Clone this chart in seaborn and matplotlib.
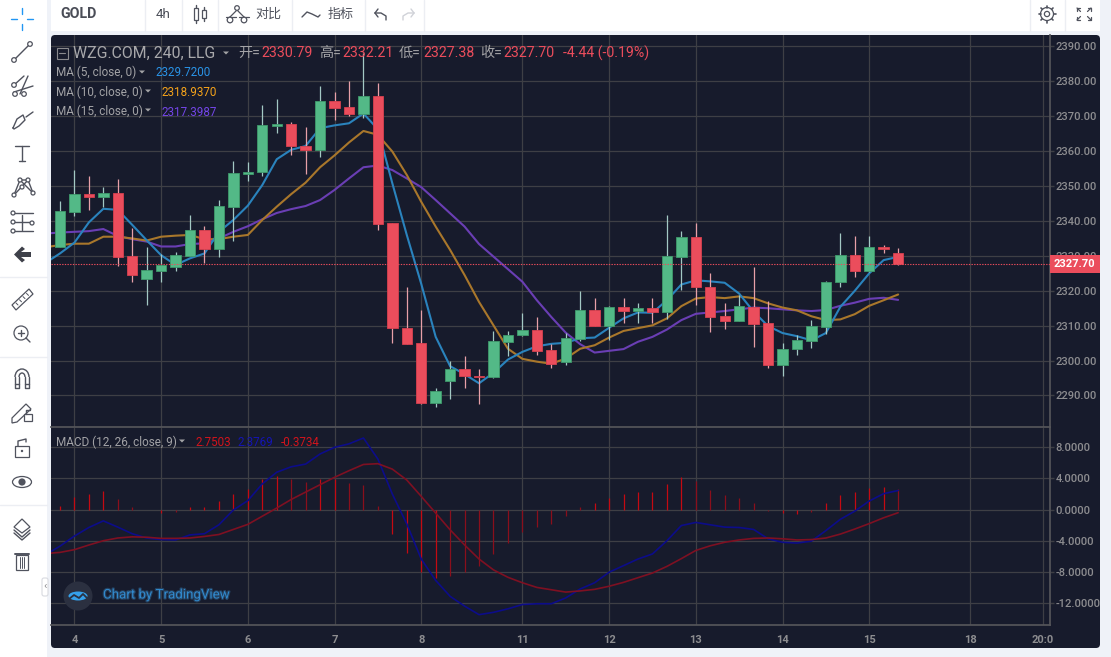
import numpy as np
import matplotlib
matplotlib.use('Agg')
import matplotlib.pyplot as plt
import matplotlib.patheffects as pe
from matplotlib.patches import Rectangle, Circle, FancyBboxPatch, Polygon, Ellipse, Arc
import seaborn as sns

# %%
# Data (bar 0 = first candle, MA/MACD lines start one bar earlier)
opens = [2332.5, 2342.5, 2347.7, 2346.8, 2347.9, 2330, 2323.3, 2325.7, 2326.9, 2330.1,
         2337.4, 2332, 2344.1, 2353.6, 2353.9, 2367.3, 2367.8, 2361.5, 2360.3, 2374.3,
         2372.6, 2370.7, 2375.9, 2339.3, 2309.3, 2305, 2287.9, 2294.1, 2297.5, 2295.7,
         2295.2, 2305.4, 2307.3, 2308.9, 2303, 2299.5, 2306.1, 2314.4, 2310, 2315.3,
         2314.3, 2315, 2313.8, 2329.7, 2335.5, 2321.2, 2312.7, 2311.4, 2315.3, 2310.7,
         2298.7, 2303.2, 2305.6, 2309.6, 2322.4, 2330.4, 2325.8, 2332.5, 2330.79]
highs = [2345.7, 2354.6, 2352.8, 2349.8, 2352, 2337.9, 2332.5, 2330.5, 2331, 2341.7,
         2338.5, 2346, 2357.3, 2356.8, 2373.3, 2375.1, 2368.3, 2367, 2378.7, 2377,
         2380.2, 2388.1, 2379.4, 2339.3, 2321, 2314.4, 2292.2, 2299.9, 2301.3, 2297.5,
         2308.6, 2308.6, 2313.7, 2312.4, 2304.7, 2307.8, 2319.9, 2317.8, 2315.6, 2317.8,
         2316.6, 2317.8, 2341.7, 2337.1, 2339.5, 2325, 2316.4, 2318.8, 2326.7, 2317,
         2304.9, 2307.2, 2311.6, 2322.9, 2336.6, 2335.7, 2335.6, 2333.1, 2332.21]
lows = [2332.5, 2341.4, 2343.1, 2344, 2327, 2322.4, 2316, 2322.6, 2325.7, 2330,
        2328, 2329.7, 2334.3, 2351.5, 2353, 2365.1, 2358.8, 2353.6, 2358.4, 2369,
        2370.2, 2369.5, 2337.5, 2305, 2304.8, 2287.6, 2286.8, 2288.9, 2292.2, 2287.7,
        2295, 2301.3, 2307.1, 2301.6, 2297.9, 2298.8, 2305.5, 2310, 2306, 2310.8,
        2310.8, 2310.8, 2311.8, 2320.2, 2316, 2308.1, 2309.1, 2311.4, 2303.8, 2297.9,
        2295.7, 2301.5, 2303.6, 2307.5, 2321, 2323.9, 2325.4, 2330.9, 2327.38]
closes = [2342.9, 2347.7, 2346.8, 2347.9, 2329.7, 2324.5, 2326.1, 2327.4, 2330.4, 2337.4,
          2332, 2344.4, 2353.8, 2354.1, 2367.6, 2367.8, 2361.4, 2360.3, 2374.3, 2372.4,
          2370.7, 2375.9, 2339, 2309.2, 2304.8, 2287.9, 2291.4, 2297.5, 2295.5, 2295.2,
          2305.6, 2307.3, 2308.9, 2302.8, 2299.1, 2306.4, 2314.4, 2310, 2315.3, 2314.3,
          2315, 2313.8, 2330, 2335.5, 2321, 2312.4, 2311.4, 2315.6, 2310.5, 2298.7,
          2303.4, 2305.8, 2309.8, 2322.5, 2330.4, 2325.8, 2332.5, 2332, 2327.7]

ma5 = [2328, 2330.7, 2333.8, 2339.6, 2343.5, 2343.2, 2338.9, 2334.5, 2330.2, 2327.4,
       2329.3, 2330.7, 2336.9, 2340.3, 2344.4, 2350.3, 2357.7, 2360.4, 2361.5, 2366.6,
       2367.4, 2368, 2370.8, 2366.3, 2350.8, 2336, 2322, 2306.8, 2298.4, 2296.1, 2293.5,
       2296.5, 2300.3, 2302.5, 2304.1, 2304.8, 2305.1, 2306.4, 2306.6, 2309.4, 2312.1,
       2313.8, 2313.7, 2317.3, 2321.8, 2323, 2322.7, 2322.3, 2319.2, 2314, 2309.9,
       2307.9, 2307, 2305.8, 2307.9, 2315.4, 2320, 2325, 2328.8, 2329.72]
ma10 = [2332.5, 2333.1, 2333.5, 2333.5, 2335.5, 2335.5, 2335, 2334.4, 2335.5, 2335.8,
        2336, 2334.8, 2334.8, 2335.5, 2336, 2340.3, 2344.1, 2347.7, 2351, 2355.4, 2358.8,
        2362.5, 2365.8, 2364.7, 2359.9, 2353.2, 2345.5, 2338.4, 2331.7, 2324.5, 2316.8,
        2310.1, 2303.4, 2300.5, 2299.7, 2299.1, 2300.6, 2303.4, 2304.4, 2306.6, 2308.5,
        2309.3, 2310.1, 2312.1, 2315.6, 2317.8, 2318.2, 2317.9, 2318.4, 2317.9, 2316.4,
        2315.2, 2314.4, 2312.7, 2311.6, 2311.8, 2313.3, 2315.7, 2317.3, 2318.94]
ma15 = [2336.4, 2336.7, 2336.9, 2337.1, 2337.7, 2335.7, 2334.8, 2334.1, 2332.7, 2332.7,
        2333.4, 2333.6, 2335, 2336.9, 2338.5, 2340.5, 2342.3, 2343.4, 2344.3, 2346, 2348.9,
        2352.2, 2355.4, 2355.9, 2354.6, 2352.2, 2349.7, 2346, 2342.2, 2338.4, 2333.4,
        2329.8, 2326.2, 2322.6, 2317.3, 2312.5, 2308, 2304.7, 2302.3, 2302.8, 2303.3,
        2305.4, 2306.8, 2308.9, 2311.6, 2313.4, 2313.8, 2314.2, 2314.7, 2315.2, 2315,
        2314.7, 2314.4, 2314.2, 2314.5, 2315.7, 2316.6, 2317.7, 2318, 2317.4]

macd_hist = [0.5, 1.6, 2.05, 2.45, 1.4, 0.3, -0.1, -0.4, -0.25, 0.3, 0.3, 1.15, 2.05, 2.65,
             3.95, 4.35, 3.95, 3.6, 3.95, 3.95, 3.4, 3.15, 0.5, -3.2, -5.6, -8, -8.8, -8.55,
             -8, -7.3, -5.7, -4.3, -2.9, -2.2, -1.9, -0.85, 0.3, 0.8, 1.45, 1.95, 2.2, 2.2,
             3.3, 4.15, 3.65, 2.55, 1.9, 1.5, 0.9, -0.2, -0.5, -0.55, -0.35, 0.8, 1.9, 2.2,
             2.8, 2.95, 2.7]
macd_line = [-5.8, -4.7, -3.4, -2.3, -1.45, -2.25, -3.1, -3.65, -3.85, -3.9, -3.25, -3.1,
             -1.95, -0.05, 1.15, 3.3, 4.8, 5.5, 5.85, 7.15, 8, 8.45, 9.2, 6.5, 2, -1.85,
             -6.35, -9.1, -11.15, -12.4, -13.5, -13.2, -12.75, -12.2, -12.1, -12.1, -11.35,
             -10.2, -9.4, -8.05, -7.2, -6.35, -5.7, -4, -2.05, -1.65, -1.95, -2.25, -2.3,
             -2.55, -3.75, -4.2, -4.3, -4.05, -2.7, -1.25, -0.2, 1.1, 2.05, 2.45]
signal_line = [-5.65, -5.5, -5.15, -4.55, -4, -3.65, -3.5, -3.55, -3.7, -3.7, -3.65, -3.45,
               -3.2, -2.55, -1.9, -0.85, 0.2, 1.3, 2.25, 3.2, 4.15, 5, 5.8, 5.9, 5.2, 3.8,
               1.7, -0.45, -2.6, -4.55, -6.35, -7.75, -8.7, -9.4, -10, -10.3, -10.6, -10.45,
               -10.25, -9.85, -9.35, -8.75, -8.15, -7.3, -6.3, -5.25, -4.65, -4.2, -3.9,
               -3.7, -3.65, -3.75, -3.9, -3.85, -3.65, -3.15, -2.5, -1.8, -1.05, -0.4]

day_ticks = [1, 7, 13, 19, 25, 32, 38, 44, 50, 56, 63, 68]
day_labels = ['4', '5', '6', '7', '8', '11', '12', '13', '14', '15', '18', '20:0']
price_ticks = [2290, 2300, 2310, 2320, 2330, 2340, 2350, 2360, 2370, 2380, 2390]
macd_ticks = [-12, -8, -4, 0, 4, 8]

BG = '#171b2c'
GRID = '#3e3f45'
UP = '#53b987'
DOWN = '#eb4d5c'
ICON = '#50535e'
LEGEND = '#a3a3a6'
AXTEXT = '#8d8d90'

W, H = 1111, 657

sns.set_theme(style='dark')
plt.rcParams['font.family'] = ['Roboto', 'Noto Sans CJK SC', 'DejaVu Sans']
plt.rcParams['axes.unicode_minus'] = False

fig = plt.figure(figsize=(W / 100, H / 100), dpi=100, facecolor='#eff2f8')


def pixel_axes(z):
    a = fig.add_axes([0, 0, 1, 1], zorder=z)
    a.set_xlim(0, W)
    a.set_ylim(H, 0)
    a.axis('off')
    a.patch.set_alpha(0)
    return a


back = pixel_axes(0)
front = pixel_axes(3)

# %%
# Window chrome: toolbar, sidebar, panel
back.add_patch(Rectangle((0, 0), 47, H, fc='white', ec='none'))
back.add_patch(Rectangle((51, 0), 1049, 31, fc='white', ec='none'))
for x in [144.5, 181.5, 217.5, 291.5, 364.5, 423.5, 1029.5, 1064.5]:
    back.plot([x, x], [0, 31], color='#eceef3', lw=1)
for y in [277, 357, 505]:
    back.plot([0, 47], [y, y], color='#eceef3', lw=1)
back.add_patch(FancyBboxPatch((54, 38), 1043, 607, boxstyle='round,pad=3,rounding_size=4', fc=BG, ec='none'))

# %%
# Price pane
x_bars = np.arange(len(closes))
x_lines = np.arange(-1, len(closes))
ax = fig.add_axes([51 / W, 1 - 427 / H, 999 / W, 392 / H], zorder=1, facecolor='none')
ax2 = fig.add_axes([51 / W, 1 - 625 / H, 999 / W, 197.5 / H], zorder=1, facecolor='none')

sns.lineplot(x=x_lines, y=ma15, color='#6a3eb4', lw=1.5, ax=ax, zorder=2)
sns.lineplot(x=x_lines, y=ma10, color='#a9772b', lw=1.5, ax=ax, zorder=2)
sns.lineplot(x=x_lines, y=ma5, color='#2a83bd', lw=1.5, ax=ax, zorder=2)

o, h, l, c = map(np.array, (opens, highs, lows, closes))
up = c >= o
ax.vlines(x_bars[up], l[up], h[up], color='#a3c9c4', lw=0.9, zorder=3)
ax.vlines(x_bars[~up], l[~up], h[~up], color='#e8a0a8', lw=0.9, zorder=3)
ax.bar(x_bars[up], (c - o)[up], bottom=o[up], width=0.72, color=UP, edgecolor='#3f9a6c', lw=0.6, zorder=4)
ax.bar(x_bars[~up], (c - o)[~up], bottom=o[~up], width=0.72, color=DOWN, edgecolor='#d8404f', lw=0.6, zorder=4)

ax.axhline(closes[-1], color=DOWN, lw=0.8, ls=(0, (1.2, 1.2)), zorder=5)
ax.set_ylim(2340 - 206 / 3.49, 2340 + 186 / 3.49)
ax.set_yticks(price_ticks)
ax.set_yticklabels([f'{v:.2f}' for v in price_ticks])
ax.annotate(f'{closes[-1]:.2f}', xy=(1.0, closes[-1]), xycoords=ax.get_yaxis_transform(), xytext=(2.9, 0),
            textcoords='offset points', color='white', fontsize=8, fontweight='bold', va='center', ha='left',
            zorder=6, annotation_clip=False, bbox=dict(boxstyle='square,pad=0.35', fc=DOWN, ec='none'))

# %%
# MACD pane
hist = np.array(macd_hist)
grow = np.abs(hist) >= np.abs(np.r_[0, hist[:-1]])
ax2.vlines(x_bars[grow], 0, hist[grow], color='#c40a12', lw=0.9, zorder=2)
ax2.vlines(x_bars[~grow], 0, hist[~grow], color='#8a0f1c', lw=0.9, zorder=2)
sns.lineplot(x=x_lines, y=macd_line, color='#0c0c8a', lw=1.2, ax=ax2, zorder=3)
sns.lineplot(x=x_lines, y=signal_line, color='#7e1022', lw=1.2, ax=ax2, zorder=4)
ax2.set_ylim(-14.83, 10.55)
ax2.set_yticks(macd_ticks)
ax2.set_yticklabels([f'{v:.4f}' for v in macd_ticks])

for a in (ax, ax2):
    a.set_xlim(-0.62, 68.51)
    a.set_xticks(day_ticks)
    a.yaxis.tick_right()
    a.grid(True, color=GRID, lw=0.9)
    a.set_axisbelow(True)
    a.set_xlabel('')
    a.set_ylabel('')
    for s in a.spines.values():
        s.set_visible(False)
    a.tick_params(axis='y', colors=AXTEXT, labelsize=8, length=3, width=1, pad=1, color=GRID, right=True)
    for t in a.get_yticklabels():
        t.set_fontweight('medium')
    a.spines['right'].set_visible(True)
    a.spines['right'].set_color('#55555a')
    a.spines['bottom'].set_visible(True)
    a.spines['bottom'].set_color('#55555a')
ax.tick_params(axis='x', labelbottom=False, length=0)
ax2.set_xticklabels(day_labels)
ax2.tick_params(axis='x', colors=AXTEXT, labelsize=8, length=0, pad=7)
for t in ax2.get_xticklabels():
    t.set_fontweight('bold')

# %%
# Legend text
def txt(x, y, s, color=LEGEND, size=8.5, **kw):
    front.text(x, y, s, color=color, fontsize=size, va='center', ha=kw.pop('ha', 'left'), **kw)


def caret(x, y, color=LEGEND):
    front.add_patch(Polygon([(x, y - 1.5), (x + 6, y - 1.5), (x + 3, y + 1.5)], fc=color, ec='none'))


front.add_patch(Rectangle((56.5, 47.5), 11, 11, fc='none', ec='#8a8a8e', lw=0.8))
front.plot([59, 65], [53, 53], color='#8a8a8e', lw=0.8)
txt(73, 53, 'WZG.COM, 240, LLG', '#a8a8ab', 11.4)
caret(223, 53)
for x, s, col in [(238, '开=', LEGEND), (261, '2330.79', DOWN), (319, '高=', LEGEND), (342, '2332.21', DOWN),
                  (399, '低=', LEGEND), (423, '2327.38', DOWN), (480, '收=', LEGEND), (503, '2327.70', DOWN),
                  (563, '-4.44 (-0.19%)', DOWN)]:
    txt(x, 53, s, col, 10.2)

txt(56, 72.5, 'MA (5, close, 0)')
caret(139, 72)
txt(155, 73, '2329.7200', '#2a93e6', 8.4)
txt(56, 92, 'MA (10, close, 0)')
caret(145, 91)
txt(161, 93, '2318.9370', '#f5a31a', 8.4)
txt(56, 111, 'MA (15, close, 0)')
caret(145, 110)
txt(161, 112, '2317.3987', '#7446e8', 8.4)

txt(56, 442, 'MACD (12, 26, close, 9)')
caret(179, 441)
txt(195, 443, '2.7503', '#d2141c', 8.4)
txt(238, 443, '2.3769', '#1414b4', 8.4)
txt(281, 443, '-0.3734', '#d2141c', 8.4)

# watermark
front.add_patch(Circle((78, 596), 14.5, fc='#2b3040', ec='none'))
front.add_patch(Ellipse((78, 596), 19, 9, fc='#35a0ea', ec='none'))
front.plot([69, 74, 79, 83, 87], [599, 595, 598, 594, 598], color='#2b3040', lw=1.3)
txt(103, 595, 'Chart by TradingView', '#3189cd', 9.6,
    path_effects=[pe.withStroke(linewidth=1.6, foreground='#24405e')])

# %%
# Toolbar
txt(60, 14, 'GOLD', '#4a4d57', 10.2, fontweight='bold')
txt(163, 14.5, '4h', '#4a4d57', 9.6, ha='center')
txt(255, 14.5, '对比', ICON, 9.4)
txt(328, 14.5, '指标', ICON, 9.4)


def seg(xs, ys, a=front, color=ICON, lw=1):
    a.plot(xs, ys, color=color, lw=lw, solid_capstyle='round')


def ring(x, y, r=2.3, a=front, fc='white', color=ICON):
    a.add_patch(Circle((x, y), r, fc=fc, ec=color, lw=0.9, zorder=4))


# candle icon
for x, y0, y1, t0, t1 in [(196, 8, 20, 5, 23), (204, 10, 18, 7, 21)]:
    seg([x, x], [t0, t1])
    front.add_patch(Rectangle((x - 2, y0), 4, y1 - y0, fc='white', ec=ICON, lw=0.9, zorder=4))
# compare icon
seg([229, 237, 245], [18, 10, 18], lw=0.9)
seg([226, 236], [17, 17], lw=0.9)
seg([239, 249], [17, 17], lw=0.9)
ring(237, 8)
ring(230, 20, 2.8)
ring(244, 20, 2.8)
# indicator icon
seg([302, 307, 312, 318, 320], [17, 12, 14, 17, 15])
# undo / redo
seg([375, 381, 386, 386], [13, 13, 16, 20])
seg([375, 378], [13, 9])
seg([375, 378], [13, 17])
seg([414, 408, 403, 403], [13, 13, 16, 20], color='#d0d2d8')
seg([414, 411], [13, 9], color='#d0d2d8')
seg([414, 411], [13, 17], color='#d0d2d8')
# gear
front.add_patch(Circle((1047, 14), 6.5, fc='none', ec=ICON, lw=0.9))
front.add_patch(Circle((1047, 14), 2.6, fc='none', ec=ICON, lw=0.9))
for ang in np.deg2rad(np.arange(0, 360, 45)):
    seg([1047 + 6.5 * np.cos(ang), 1047 + 8.5 * np.cos(ang)], [14 + 6.5 * np.sin(ang), 14 + 8.5 * np.sin(ang)], lw=1.2)
# fullscreen
for sx, sy in [(-1, -1), (1, -1), (-1, 1), (1, 1)]:
    cx, cy = 1084 + 7 * sx, 14 + 6 * sy
    seg([cx - 3 * sx, cx, cx], [cy, cy, cy - 3 * sy], lw=0.9)
    seg([cx, cx - 3.5 * sx], [cy, cy - 3.5 * sy], lw=0.9)

# %%
# Sidebar icons
BLUE = '#2196f3'
seg([11, 17], [19, 19], color=BLUE)
seg([27, 33], [19, 19], color=BLUE)
seg([22, 22], [8, 14], color=BLUE)
seg([22, 22], [24, 30], color=BLUE)

seg([14, 30], [60, 44])
ring(14, 60)
ring(30, 44)

seg([14, 24], [85, 76])
seg([14, 33], [92, 86])
seg([20, 28], [94, 76])
ring(14, 85)
ring(15, 94)
ring(24, 94)

seg([13, 17, 23, 25, 19, 14, 13], [128, 119, 115, 120, 126, 129, 128])
seg([26, 33], [117, 112])

seg([15, 29], [146, 146])
seg([22, 22], [146, 161])
seg([19, 25], [161, 161])

seg([14, 20, 28, 33], [195, 180, 180, 193])
seg([14, 28], [195, 180])
seg([20, 33], [180, 193])
for x, y in [(14, 195), (20, 180), (28, 180), (33, 193), (22, 187)]:
    ring(x, y, 2)

for y in [213, 222, 231]:
    seg([13, 33], [y, y])
    ring(13, y, 2)
ring(32, 223, 2)
seg([22, 22], [215, 230])

front.add_patch(Polygon([(14, 254.5), (22, 246.5), (25, 249), (21, 252), (31, 252), (31, 257), (21, 257),
                         (25, 260), (22, 262.5)], fc='#3e4049', ec='none'))

front.add_patch(Polygon([(12, 305), (29, 289), (33, 294), (16, 310)], fc='white', ec=ICON, lw=0.9))
for d in range(4):
    seg([16 + 3.5 * d, 18 + 3.5 * d], [303 - 3.2 * d, 305 - 3.2 * d], lw=0.7)

ring(21, 333, 7, fc='none')
seg([18, 24], [333, 333])
seg([21, 21], [330, 336])
seg([26, 30], [338, 342])

front.add_patch(Arc((22, 377), 14, 16, theta1=180, theta2=360, ec=ICON, lw=1))
front.add_patch(Arc((22, 377), 6, 8, theta1=180, theta2=360, ec=ICON, lw=1))
for x0, x1 in [(15, 19), (25, 29)]:
    seg([x0, x0, x1, x1], [377, 388, 388, 377])
    seg([x0, x1], [384, 384])

front.add_patch(Polygon([(12, 418), (26, 404), (31, 409), (17, 422), (12, 423)], fc='white', ec=ICON, lw=0.9))
front.add_patch(Rectangle((24, 414), 8, 7, fc='white', ec=ICON, lw=0.9))
seg([26, 26, 30], [414, 410, 410])

front.add_patch(Rectangle((15, 446), 14, 11, fc='white', ec=ICON, lw=0.9))
seg([18, 18, 26, 26], [446, 441, 439, 442])
front.add_patch(Circle((22, 451), 1.2, fc=ICON, ec='none'))

front.add_patch(Ellipse((22, 482), 19, 11, fc='white', ec=ICON, lw=0.9))
front.add_patch(Circle((22, 482), 3.6, fc=ICON, ec='none'))

front.add_patch(Polygon([(14, 527), (22, 519), (30, 527), (22, 533)], fc='white', ec=ICON, lw=0.9, zorder=5))
seg([14, 22, 30], [530, 537, 530])
seg([14, 22, 30], [533, 540, 533])

front.add_patch(Rectangle((16, 555), 12, 15, fc='white', ec=ICON, lw=0.9))
seg([15, 29], [554, 554], lw=1.4)
for x in [20, 22, 24]:
    seg([x, x], [557, 568], lw=0.7)

front.add_patch(FancyBboxPatch((42, 578), 6, 18, boxstyle='round,pad=0,rounding_size=2', fc='white', ec='#d8dae0', lw=0.8))
txt(45, 586, '‹', '#8a8a8e', 8, ha='center')

fig.savefig('out.png', dpi=100, facecolor=fig.get_facecolor())
